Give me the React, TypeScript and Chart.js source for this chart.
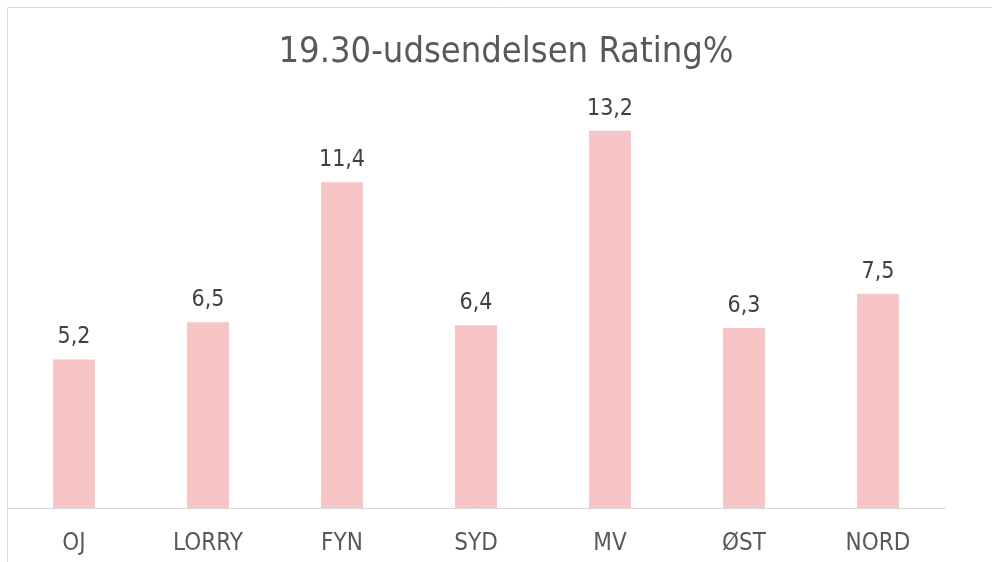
import React, { useEffect, useRef } from "react";
import { Chart, registerables } from "chart.js";

Chart.register(...registerables);

const categories = ["OJ", "LORRY", "FYN", "SYD", "MV", "ØST", "NORD"];
const ratings = [5.2, 6.5, 11.4, 6.4, 13.2, 6.3, 7.5];
const titleText = "19.30-udsendelsen Rating%";

const FONT = "'DejaVu Sans Condensed', 'DejaVu Sans', Tahoma, sans-serif";

const framePlugin = {
  id: "frame",
  beforeDraw(chart: any) {
    const ctx = chart.ctx;
    ctx.save();
    ctx.fillStyle = "#ffffff";
    ctx.fillRect(0, 0, chart.width, chart.height);
    ctx.strokeStyle = "#D9D9D9";
    ctx.lineWidth = 1;
    ctx.beginPath();
    ctx.moveTo(7.5, chart.height);
    ctx.lineTo(7.5, 7.5);
    ctx.lineTo(chart.width, 7.5);
    ctx.stroke();
    ctx.font = `36px ${FONT}`;
    ctx.fillStyle = "#595959";
    ctx.textAlign = "center";
    ctx.textBaseline = "middle";
    ctx.fillText(titleText, 506, 53);
    ctx.restore();
  },
};

const labelPlugin = {
  id: "valueLabels",
  afterDatasetsDraw(chart: any) {
    const ctx = chart.ctx;
    const meta = chart.getDatasetMeta(0);
    ctx.save();
    ctx.font = `23px ${FONT}`;
    ctx.fillStyle = "#404040";
    ctx.textAlign = "center";
    ctx.textBaseline = "middle";
    meta.data.forEach((bar: any, i: number) => {
      const v = chart.data.datasets[0].data[i] as number;
      ctx.fillText(v.toFixed(1).replace(".", ","), bar.x, bar.y - 22);
    });
    ctx.restore();
  },
};

export default function App() {
  const ref = useRef<HTMLCanvasElement>(null);
  useEffect(() => {
    document.body.style.margin = "0";
    const chart = new Chart(ref.current!, {
      type: "bar",
      data: {
        labels: categories,
        datasets: [
          {
            data: ratings,
            backgroundColor: "#F7C5C6",
            barPercentage: 0.313,
            categoryPercentage: 1,
          },
        ],
      },
      options: {
        animation: false,
        responsive: false,
        layout: { padding: { left: 7, right: 47, top: 108, bottom: 0 } },
        plugins: {
          legend: { display: false },
          tooltip: { enabled: false },
          title: { display: false },
        },
        scales: {
          y: { display: false, min: 0, max: 14 },
          x: {
            grid: { display: false, drawTicks: false },
            border: { display: true, color: "#D9D9D9", width: 1 },
            afterFit: (scale: any) => {
              scale.height = 54;
            },
            ticks: {
              color: "#595959",
              padding: 21,
              font: { family: FONT, size: 24 },
            },
          },
        },
      },
      plugins: [framePlugin, labelPlugin],
    });
    return () => chart.destroy();
  }, []);
  return (
    <div style={{ width: 992, height: 562 }}>
      <canvas ref={ref} width={992} height={562} style={{ display: "block" }} />
    </div>
  );
}
